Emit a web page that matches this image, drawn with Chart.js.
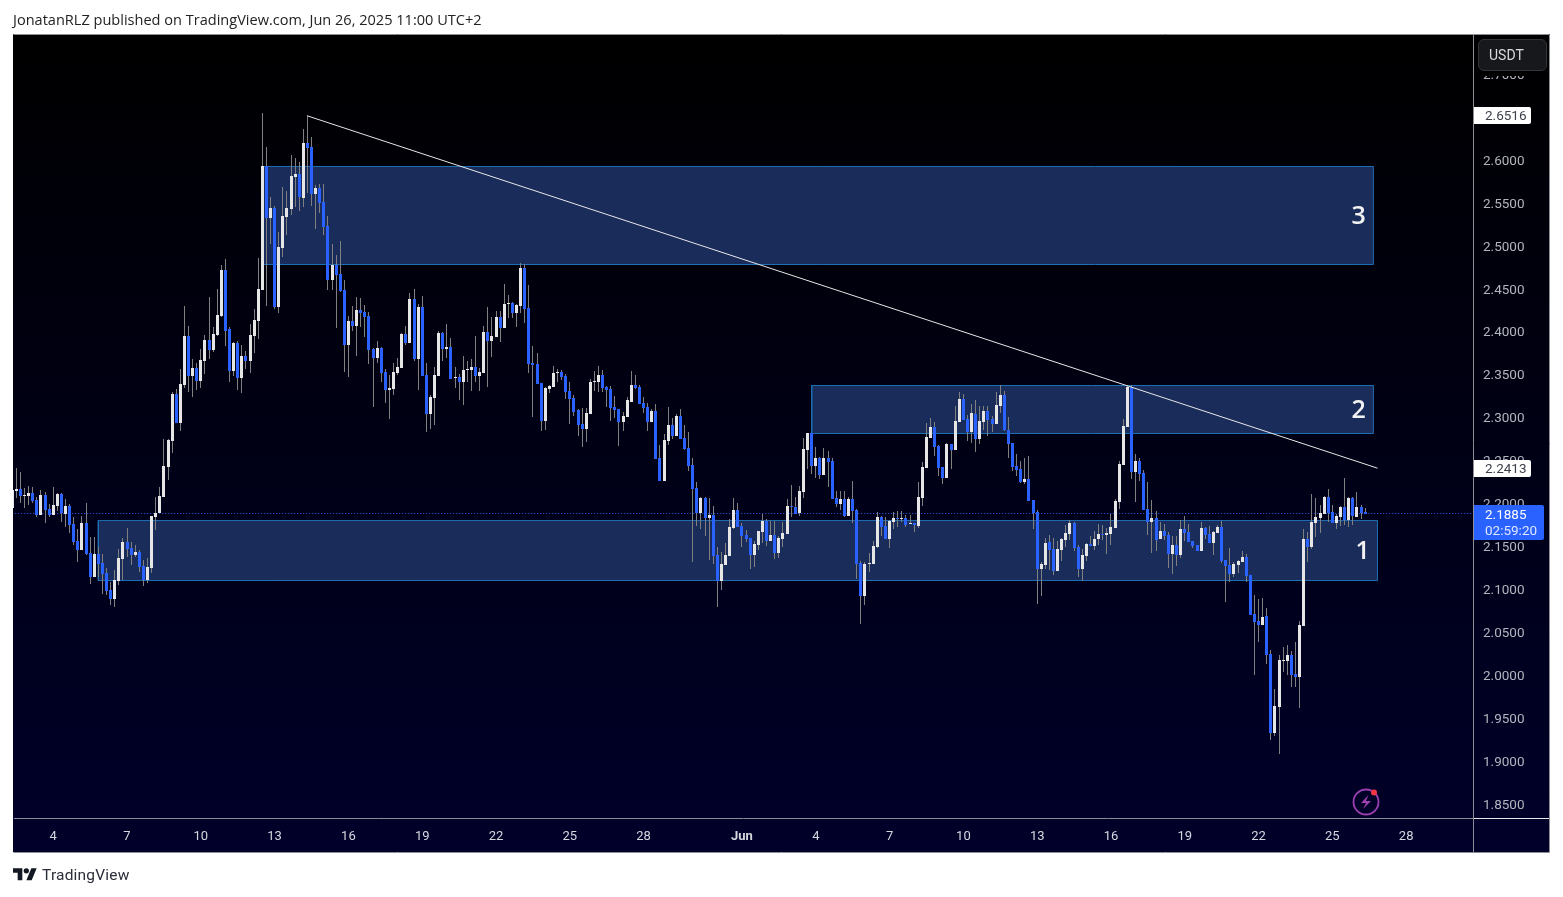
<!DOCTYPE html>
<html><head><meta charset="utf-8">
<style>
html,body{margin:0;padding:0;background:#fff;width:1563px;height:897px;overflow:hidden}
canvas{position:absolute;left:0;top:0}
.t{position:absolute;white-space:nowrap;font-family:"Open Sans",sans-serif}
#title{left:13px;top:10px;font-size:14.55px;line-height:18px;color:#222}
#brand{left:42px;top:866px;font-size:15.5px;line-height:18px;color:#2a2e39;font-family:Roboto,sans-serif;letter-spacing:.2px}
#unit{left:1478px;top:38.5px;width:69px;height:32px;box-sizing:border-box;background:#17181b;border:1px solid #34353a;border-radius:6px;color:#d8dae0;font:14px/30px Roboto,sans-serif;padding-left:10px;box-shadow:0 5px 0 0 #000}
svg{position:absolute}
</style>
<script src="https://cdn.jsdelivr.net/npm/chart.js@4/dist/chart.umd.min.js"></script>
</head><body>
<canvas id="c" width="1563" height="897"></canvas>
<div class="t" id="title">JonatanRLZ published on TradingView.com, Jun 26, 2025 11:00 UTC+2</div>
<div class="t" id="unit">USDT</div>
<svg style="left:13px;top:868px" width="24" height="13" viewBox="0 4 36 19"><path fill="#131722" d="M14 22H7V11H0V4h14v18zM28 22h-8l7.5-18h8L28 22z"/><circle fill="#131722" cx="20" cy="8" r="4"/></svg>
<div class="t" id="brand">TradingView</div>
<svg style="left:1350px;top:786px" width="32" height="32" viewBox="0 0 32 32"><circle cx="16" cy="16" r="12.5" fill="none" stroke="#9c3fb0" stroke-width="1.8"/><path d="M18.5 9 L11 17 H16 L13 23 L21 15 H16 Z" fill="#9c3fb0"/><circle cx="24" cy="6.5" r="3" fill="#f23645"/></svg>
<script>
const opens=[
2.1946,2.2152,2.2171,2.2094,2.2090,2.2121,2.2043,2.1868,2.2101,2.1934,
2.1868,2.1973,2.2113,2.1884,2.1973,2.1764,2.1566,2.1461,2.1772,2.1422,
2.1151,2.1414,2.1306,2.1189,2.0995,2.0891,2.1104,2.1356,2.1550,2.1480,
2.1403,2.1438,2.1275,2.1112,2.1255,2.1849,2.1888,2.2082,2.2431,2.2734,
2.3277,2.2943,2.3382,2.3952,2.3486,2.3579,2.3428,2.3665,2.3905,2.3789,
2.3964,2.4185,2.4720,2.4033,2.3545,2.3870,2.3463,2.3719,2.3661,2.3952,
2.4130,2.4487,2.5931,2.5325,2.5442,2.4286,2.4976,2.5337,2.5430,2.5803,
2.5838,2.5558,2.6198,2.6152,2.5605,2.5675,2.5512,2.5232,2.4604,2.4778,
2.4674,2.4487,2.3847,2.4126,2.4067,2.4254,2.4230,2.4184,2.3800,2.3695,
2.3811,2.3532,2.3322,2.3334,2.3520,2.3579,2.3974,2.3869,2.4382,2.3683,
2.4289,2.3497,2.3043,2.3230,2.3485,2.3986,2.3800,2.3823,2.3462,2.3474,
2.3416,2.3555,2.3555,2.3590,2.3485,2.3520,2.3998,2.3893,2.3939,2.4172,
2.4044,2.4323,2.4335,2.4219,2.4300,2.4742,2.4277,2.3637,2.3625,2.3404,
2.2962,2.3334,2.3357,2.3520,2.3532,2.3485,2.3311,2.3229,2.3090,2.2927,
2.2868,2.3043,2.3416,2.3416,2.3497,2.3357,2.3334,2.3125,2.3101,2.2950,
2.3008,2.3183,2.3381,2.3357,2.3171,2.3125,2.2950,2.3078,2.2531,2.2263,
2.2729,2.2915,2.2787,2.3020,2.2764,2.2647,2.2449,2.2182,2.1891,2.2065,
2.1832,2.1867,2.1402,2.1099,2.1285,2.1390,2.1716,2.1926,2.1738,2.1633,
2.1598,2.1401,2.1517,2.1668,2.1796,2.1564,2.1633,2.1424,2.1587,2.1645,
2.1971,2.1959,2.1890,2.2134,2.2623,2.2821,2.2437,2.2530,2.2332,2.2530,
2.2495,2.2064,2.1994,2.2052,2.1855,2.2052,2.1924,2.1307,2.0923,2.1296,
2.1296,2.1494,2.1843,2.1738,2.1587,2.1785,2.1831,2.1819,2.1831,2.1761,
2.1773,2.1738,2.2064,2.2413,2.2763,2.2891,2.2669,2.2425,2.2297,2.2693,
2.2623,2.2949,2.3216,2.2984,2.2832,2.3042,2.2751,2.2949,2.3077,2.2984,
2.2925,2.3135,2.3263,2.2856,2.2704,2.2437,2.2402,2.2250,2.2285,2.2041,
2.1901,2.1238,2.1284,2.1552,2.1471,2.1214,2.1459,2.1575,2.1645,2.1773,
2.1494,2.1238,2.1389,2.1529,2.1505,2.1587,2.1645,2.1633,2.1645,2.1715,
2.2018,2.2448,2.2891,2.3356,2.2367,2.2495,2.2355,2.1936,2.1785,2.1831,
2.1587,2.1680,2.1633,2.1412,2.1517,2.1401,2.1703,2.1668,2.1564,2.1517,
2.1447,2.1715,2.1645,2.1540,2.1657,2.1727,2.1342,2.1284,2.1179,2.1284,
2.1319,2.1377,2.1168,2.0714,2.0632,2.0586,2.0691,2.0248,1.9329,1.9631,
2.0167,2.0167,2.0237,2.0015,1.9981,2.0574,2.1587,2.1494,2.1773,2.1831,
2.1878,2.2076,2.1901,2.1773,2.1843,2.1959,2.1808,2.2064,2.1843,2.1959,
2.1901];
const closes=[
2.2159,2.2171,2.2090,2.2101,2.2121,2.2031,2.1868,2.2101,2.1927,2.1868,
2.1985,2.2113,2.1888,2.1973,2.1752,2.1558,2.1461,2.1772,2.1414,2.1151,
2.1414,2.1298,2.1182,2.0984,2.0891,2.1112,2.1364,2.1550,2.1473,2.1403,
2.1438,2.1267,2.1112,2.1259,2.1857,2.1888,2.2090,2.2439,2.2741,2.3277,
2.2943,2.3393,2.3952,2.3486,2.3579,2.3428,2.3673,2.3905,2.3789,2.3975,
2.4196,2.4720,2.4014,2.3545,2.3874,2.3463,2.3719,2.3661,2.3964,2.4138,
2.4499,2.5931,2.5325,2.5442,2.4286,2.4988,2.5349,2.5442,2.5814,2.5838,
2.5570,2.6198,2.6140,2.5605,2.5675,2.5500,2.5221,2.4604,2.4778,2.4662,
2.4476,2.3847,2.4127,2.4067,2.4254,2.4219,2.4172,2.3788,2.3695,2.3811,
2.3520,2.3322,2.3346,2.3532,2.3590,2.3974,2.3869,2.4382,2.3683,2.4289,
2.3485,2.3043,2.3241,2.3497,2.3986,2.3800,2.3823,2.3450,2.3474,2.3416,
2.3555,2.3567,2.3590,2.3485,2.3532,2.3998,2.3893,2.3951,2.4172,2.4044,
2.4323,2.4335,2.4219,2.4312,2.4742,2.4265,2.3625,2.3613,2.3392,2.2962,
2.3346,2.3369,2.3520,2.3532,2.3474,2.3299,2.3218,2.3066,2.2915,2.2868,
2.3055,2.3416,2.3427,2.3497,2.3346,2.3322,2.3113,2.3090,2.2950,2.3020,
2.3206,2.3381,2.3346,2.3159,2.3113,2.2950,2.3078,2.2519,2.2263,2.2740,
2.2915,2.2787,2.3020,2.2752,2.2636,2.2438,2.2170,2.1891,2.2065,2.1832,
2.1867,2.1390,2.1099,2.1297,2.1402,2.1728,2.1926,2.1728,2.1622,2.1587,
2.1401,2.1529,2.1680,2.1796,2.1564,2.1633,2.1424,2.1598,2.1657,2.1971,
2.1959,2.1882,2.2146,2.2634,2.2821,2.2437,2.2530,2.2332,2.2530,2.2483,
2.2052,2.1994,2.2052,2.1855,2.2052,2.1913,2.1296,2.0923,2.1296,2.1307,
2.1505,2.1843,2.1727,2.1587,2.1796,2.1831,2.1819,2.1831,2.1750,2.1773,
2.1750,2.2076,2.2425,2.2774,2.2891,2.2658,2.2413,2.2297,2.2693,2.2623,
2.2960,2.3216,2.2972,2.2832,2.3053,2.2751,2.2960,2.3077,2.2972,2.2925,
2.3147,2.3263,2.2856,2.2693,2.2425,2.2390,2.2250,2.2285,2.2029,2.1890,
2.1238,2.1296,2.1540,2.1459,2.1214,2.1471,2.1587,2.1657,2.1773,2.1482,
2.1238,2.1401,2.1529,2.1505,2.1587,2.1645,2.1633,2.1657,2.1727,2.2029,
2.2460,2.2902,2.3356,2.2367,2.2495,2.2343,2.1924,2.1785,2.1831,2.1575,
2.1680,2.1622,2.1412,2.1517,2.1401,2.1703,2.1657,2.1552,2.1505,2.1447,
2.1715,2.1633,2.1540,2.1668,2.1727,2.1331,2.1272,2.1179,2.1296,2.1331,
2.1377,2.1156,2.0702,2.0621,2.0586,2.0679,2.0237,1.9329,1.9643,2.0178,
2.0178,2.0237,2.0004,1.9981,2.0586,2.1587,2.1494,2.1785,2.1843,2.1890,
2.2076,2.1890,2.1773,2.1855,2.1959,2.1808,2.2064,2.1855,2.1959,2.1890,
2.1885];
const highs=[
2.2159,2.2412,2.2365,2.2179,2.2206,2.2198,2.2082,2.2159,2.2140,2.1996,
2.2190,2.2128,2.2128,2.2055,2.1996,2.1849,2.1706,2.1857,2.2004,2.1616,
2.1616,2.1500,2.1414,2.1248,2.1092,2.1228,2.1473,2.1597,2.1713,2.1550,
2.1519,2.1461,2.1345,2.1364,2.1857,2.2082,2.2190,2.2749,2.2749,2.3304,
2.3331,2.3564,2.4301,2.4068,2.3680,2.3634,2.3801,2.3964,2.4410,2.4061,
2.4495,2.4778,2.4844,2.4061,2.3886,2.3898,2.3847,2.3781,2.4092,2.4262,
2.4864,2.6555,2.6156,2.5566,2.5465,2.5166,2.5682,2.5640,2.6059,2.6020,
2.5981,2.6361,2.6524,2.6272,2.5710,2.5721,2.5721,2.5349,2.5023,2.4895,
2.5058,2.4604,2.4185,2.4300,2.4405,2.4393,2.4312,2.4230,2.3811,2.3893,
2.3823,2.3567,2.3497,2.3637,2.3695,2.3986,2.4067,2.4451,2.4498,2.4323,
2.4417,2.3637,2.3264,2.3590,2.4009,2.3998,2.4091,2.3928,2.3590,2.3509,
2.3718,2.3660,2.3683,2.3951,2.3579,2.4067,2.4289,2.4172,2.4242,2.4242,
2.4556,2.4428,2.4347,2.4323,2.4801,2.4789,2.4545,2.3835,2.3753,2.3404,
2.3357,2.3381,2.3602,2.3567,2.3555,2.3509,2.3416,2.3264,2.3101,2.3113,
2.3113,2.3450,2.3544,2.3602,2.3555,2.3369,2.3369,2.3253,2.3101,2.3066,
2.3241,2.3544,2.3497,2.3381,2.3241,2.3171,2.3101,2.3159,2.2682,2.2810,
2.3125,2.2996,2.3043,2.3101,2.2915,2.2834,2.2531,2.2252,2.2077,2.2077,
2.2065,2.1972,2.1495,2.1437,2.1541,2.1821,2.2065,2.2007,2.1773,2.1690,
2.1600,2.1564,2.1680,2.1878,2.1827,2.1796,2.1796,2.1622,2.1785,2.2052,
2.2215,2.2076,2.2204,2.2763,2.2821,2.2821,2.2658,2.2541,2.2646,2.2611,
2.2530,2.2146,2.2146,2.2146,2.2076,2.2262,2.1936,2.1331,2.1319,2.1424,
2.1564,2.1901,2.1855,2.1843,2.1808,2.1901,2.1913,2.1913,2.1866,2.1866,
2.1773,2.2250,2.2483,2.2937,2.2995,2.2949,2.2681,2.2425,2.2704,2.2693,
2.3135,2.3298,2.3275,2.3030,2.3158,2.3205,2.3135,2.3135,2.3135,2.3019,
2.3298,2.3379,2.3310,2.3007,2.2704,2.2576,2.2495,2.2530,2.2553,2.2041,
2.1924,2.1319,2.1598,2.1633,2.1598,2.1564,2.1598,2.1750,2.1808,2.1785,
2.1517,2.1470,2.1540,2.1622,2.1680,2.1761,2.1750,2.1715,2.1878,2.2052,
2.2495,2.2984,2.3379,2.3379,2.2576,2.2530,2.2390,2.2250,2.2041,2.1913,
2.1785,2.1761,2.1668,2.1622,2.1622,2.1808,2.1855,2.1761,2.1564,2.1517,
2.1785,2.1727,2.1738,2.1680,2.1750,2.1796,2.1342,2.1482,2.1319,2.1342,
2.1447,2.1412,2.1168,2.0935,2.0888,2.0900,2.0784,2.0295,1.9841,2.0237,
2.0330,2.0353,2.0283,2.0388,2.0632,2.1703,2.1668,2.2111,2.2064,2.1983,
2.2087,2.2169,2.1983,2.1878,2.1971,2.2297,2.2076,2.2076,2.2134,2.1983,
2.1948];
const lows=[
2.1946,2.2062,2.2012,2.1954,2.1985,2.2004,2.1849,2.1868,2.1772,2.1849,
2.1868,2.1919,2.1791,2.1733,2.1655,2.1519,2.1325,2.1461,2.1403,2.1065,
2.1143,2.1151,2.0949,2.0937,2.0821,2.0794,2.1054,2.1112,2.1383,2.1286,
2.1376,2.1209,2.1046,2.1081,2.1189,2.1694,2.1888,2.2082,2.2276,2.2586,
2.2935,2.2850,2.3343,2.3304,2.3238,2.3323,2.3343,2.3510,2.3684,2.3770,
2.3952,2.4177,2.3836,2.3416,2.3486,2.3323,2.3292,2.3564,2.3525,2.3750,
2.3921,2.4487,2.4301,2.5023,2.4262,2.4224,2.4875,2.5128,2.5360,2.5457,
2.5407,2.5457,2.5613,2.5465,2.5197,2.5380,2.5128,2.4487,2.4487,2.4045,
2.4468,2.3533,2.3479,2.4009,2.3718,2.4056,2.3939,2.3625,2.3125,2.3633,
2.3416,2.3171,2.2985,2.3264,2.3497,2.3579,2.3846,2.3869,2.3660,2.3322,
2.3485,2.2834,2.2868,2.2915,2.3485,2.3660,2.3691,2.3450,2.3346,2.3206,
2.3148,2.3416,2.3311,2.3416,2.3311,2.3520,2.3357,2.3707,2.3939,2.3881,
2.4044,2.4160,2.4160,2.4056,2.4219,2.4102,2.3520,2.3008,2.3392,2.2845,
2.2857,2.3287,2.3357,2.3416,2.3439,2.3218,2.2927,2.3020,2.2787,2.2659,
2.2717,2.3043,2.3311,2.3299,2.3299,2.3125,2.2962,2.2996,2.2671,2.2845,
2.3008,2.3183,2.3330,2.3159,2.3055,2.2845,2.2950,2.2519,2.2263,2.2263,
2.2682,2.2748,2.2787,2.2752,2.2624,2.2380,2.1320,2.1739,2.1704,2.1623,
2.1344,2.1297,2.0796,2.0994,2.1285,2.1390,2.1704,2.1728,2.1494,2.1552,
2.1238,2.1261,2.1459,2.1540,2.1505,2.1564,2.1354,2.1366,2.1494,2.1645,
2.1843,2.1882,2.1855,2.2064,2.2402,2.2343,2.2297,2.2285,2.2332,2.2192,
2.2052,2.1959,2.1924,2.1843,2.1855,2.1773,2.1121,2.0597,2.0819,2.1203,
2.1296,2.1482,2.1622,2.1587,2.1482,2.1703,2.1727,2.1785,2.1727,2.1761,
2.1668,2.1715,2.1971,2.2413,2.2763,2.2553,2.2320,2.2227,2.2297,2.2402,
2.2623,2.2949,2.2972,2.2728,2.2704,2.2599,2.2693,2.2856,2.2786,2.2832,
2.2925,2.3053,2.2844,2.2530,2.2378,2.2320,2.2239,2.2227,2.2029,2.1703,
2.0830,2.0923,2.1238,2.1226,2.1168,2.1214,2.1331,2.1494,2.1575,2.1447,
2.1145,2.1102,2.1331,2.1505,2.1459,2.1517,2.1575,2.1412,2.1517,2.1715,
2.1936,2.2448,2.2891,2.2285,2.2018,2.2262,2.1924,2.1633,2.1424,2.1447,
2.1587,2.1575,2.1249,2.1179,2.1272,2.1366,2.1564,2.1552,2.1482,2.1447,
2.1447,2.1587,2.1540,2.1401,2.1657,2.1307,2.0854,2.1086,2.1144,2.1191,
2.1319,2.1086,2.0702,2.0004,2.0388,2.0586,2.0132,1.9247,1.9294,1.9084,
2.0039,2.0004,1.9864,1.9864,1.9620,2.0574,2.1319,2.1470,2.1610,2.1657,
2.1878,2.1785,2.1773,2.1703,2.1738,2.1750,2.1727,2.1750,2.1843,2.1820,
2.1878];

const dayTickBars=[10,28,46,64,82,100,118,136,154,178,196,214,232,250,268,286,304,322,340];
const dayTickLabels=['4','7','10','13','16','19','22','25','28','Jun','4','7','10','13','16','19','22','25','28'];
const priceTicks=[1.85,1.9,1.95,2,2.05,2.1,2.15,2.2,2.25,2.3,2.35,2.4,2.45,2.5,2.55,2.6,2.65,2.7];

const zoneBars=[[61,332],[195,332],[21,333]];
const zonePrices=[[2.4785,2.5927],[2.2817,2.3376],[2.1105,2.1804]];
const zoneNames=['3','2','1'];
const zoneNameBars=[328.4,328.4,329.4];

const trendBars=[72,333];
const trendPrices=[2.6516,2.2413];
const lastPrice=2.1885;
const countdown='02:59:20';

const blue='#2962ff', white='#e6e6e6', wick='#808080';
const bars=opens.map((_,i)=>i);
const bodyColor=ctx=>closes[ctx.dataIndex]>=opens[ctx.dataIndex]?white:blue;

const zoneDatasets=zoneBars.map((b,k)=>({
  type:'line',order:10,
  data:[{x:b[0],y:zonePrices[k][0]},{x:b[1],y:zonePrices[k][0]},{x:b[1],y:zonePrices[k][1]},{x:b[0],y:zonePrices[k][1]},{x:b[0],y:zonePrices[k][0]}],
  borderColor:'#1e6fb5',borderWidth:1,backgroundColor:'#1a2d5a',fill:'shape',pointRadius:0,tension:0
}));

const chrome={
  id:'chrome',
  beforeDraw(c){
    const x=c.ctx;x.save();
    const g=x.createLinearGradient(0,35,0,852);
    g.addColorStop(0,'#000000');g.addColorStop(1,'#00002a');
    x.fillStyle=g;x.fillRect(13,34,1537,818);
    x.restore();
  },
  beforeDatasetsDraw(c){
    // snap candle rectangles to the pixel grid, as the reference does
    c.data.datasets.forEach((d,i)=>{
      if(d.type!=='bar')return;
      c.getDatasetMeta(i).data.forEach(el=>{
        const w=el.width;
        el.x=Math.round(el.x-w/2)+w/2;
        let top=Math.round(Math.min(el.y,el.base)),bot=Math.round(Math.max(el.y,el.base));
        if(bot<=top)bot=top+1;
        el.y=top;el.base=bot;el.height=bot-top;
      });
    });
  },
  afterDraw(c){
    const x=c.ctx,ya=c.scales.y,xa=c.scales.x;
    x.save();
    // frame and axis separators
    x.lineWidth=1;x.strokeStyle='#8d8e94';
    x.beginPath();
    x.moveTo(13.5,34.5);x.lineTo(1549.5,34.5);x.lineTo(1549.5,852.5);x.lineTo(13.5,852.5);
    x.moveTo(1473.5,35);x.lineTo(1473.5,852);x.moveTo(14,818.5);x.lineTo(1473,818.5);
    x.stroke();
    x.strokeStyle='#e8e8e8';x.beginPath();x.moveTo(1474,818.5);x.lineTo(1549,818.5);x.stroke();
    // zone numbers
    x.fillStyle='#f2f2f2';x.font='600 25px "Open Sans",sans-serif';x.textAlign='center';x.textBaseline='middle';
    zoneNames.forEach((n,k)=>x.fillText(n,xa.getPixelForValue(zoneNameBars[k]),ya.getPixelForValue((zonePrices[k][0]+zonePrices[k][1])/2)+1));
    // price tags
    x.textAlign='left';x.font='13.5px Roboto,sans-serif';
    const tag=(p)=>{
      const py=ya.getPixelForValue(p);
      x.fillStyle='#ffffff';x.beginPath();x.roundRect(1474,Math.round(py-8.5),57,17,[0,2,2,0]);x.fill();
      x.fillStyle='#3b3f4a';x.fillText(p.toFixed(4),1485,py+1);
    };
    tag(trendPrices[0]);tag(trendPrices[1]);
    const ly=ya.getPixelForValue(lastPrice);
    x.fillStyle=blue;x.beginPath();x.roundRect(1474,Math.round(ly-9),70,35,[0,2,2,0]);x.fill();
    x.fillStyle='#ffffff';x.fillText(lastPrice.toFixed(4),1485,ly+2.5);
    x.fillStyle='#dfe6ff';x.fillText(countdown,1485,ly+18);
    x.restore();
  }
};

new Chart(document.getElementById('c'),{
  type:'bar',
  plugins:[chrome],
  data:{datasets:[
    ...zoneDatasets,
    {type:'line',order:9,data:[{x:0,y:lastPrice},{x:356.3,y:lastPrice}],borderColor:blue,borderWidth:1,borderDash:[1,2],pointRadius:0,fill:false},
    {type:'bar',order:5,grouped:false,barThickness:1,inflateAmount:0,data:bars.map(i=>({x:i,y:[lows[i],highs[i]]})),backgroundColor:wick,borderWidth:0,minBarLength:1},
    {type:'bar',order:4,grouped:false,barThickness:3,inflateAmount:0,data:bars.map(i=>({x:i,y:[opens[i],closes[i]]})),backgroundColor:bodyColor,borderWidth:0,minBarLength:1},
    {type:'line',order:1,data:trendBars.map((b,k)=>({x:b,y:trendPrices[k]})),borderColor:'#e8e8e8',borderWidth:1,pointRadius:0,fill:false,tension:0}
  ]},
  options:{
    responsive:false,animation:false,devicePixelRatio:1,
    events:[],
    layout:{padding:{left:13,right:13,top:35,bottom:45}},
    plugins:{legend:{display:false},tooltip:{enabled:false},title:{display:false}},
    scales:{
      x:{type:'linear',offset:false,min:0.19,max:356.3,
        grid:{display:false,drawTicks:false},border:{display:false},
        afterBuildTicks(s){s.ticks=dayTickBars.map(v=>({value:v}));},
        afterFit(s){s.height=34;},
        ticks:{autoSkip:false,maxRotation:0,padding:10.5,color:'#d6d8de',
          font:ctx=>({family:'Roboto,sans-serif',size:13,weight:ctx.index===9?'bold':'normal'}),
          callback:(v,i)=>dayTickLabels[i]}
      },
      y:{type:'linear',position:'right',min:1.8339,max:2.7458,
        grid:{display:false,drawTicks:false},border:{display:false},
        afterBuildTicks(s){
          s.ticks=priceTicks.map(v=>({value:v}));
          const base=s.getPixelForTick;
          s.getPixelForTick=function(i){return base.call(this,i)+0.6;};
        },
        afterFit(s){s.width=77;},
        ticks:{autoSkip:false,padding:10,color:'#b2b5be',font:{family:'Roboto,sans-serif',size:13.5},
          callback:v=>v.toFixed(4)}
      }
    }
  }
});
</script>
</body></html>
